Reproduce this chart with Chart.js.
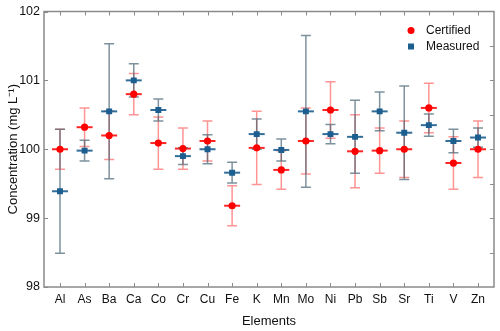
<!DOCTYPE html>
<html>
<head>
<meta charset="utf-8">
<script src="https://cdn.jsdelivr.net/npm/chart.js@4"></script>
<style>
  html, body { margin: 0; padding: 0; background: #fff; }
  #wrap { width: 500px; height: 331px; }
</style>
</head>
<body>
<div id="wrap"><canvas id="chart" width="500" height="331"></canvas></div>
<script>
const elements = ['Al', 'As', 'Ba', 'Ca', 'Co', 'Cr', 'Cu', 'Fe', 'K', 'Mn', 'Mo', 'Ni', 'Pb', 'Sb', 'Sr', 'Ti', 'V', 'Zn'];
const certified = [100.00, 100.32, 100.20, 100.80, 100.09, 100.01, 100.12, 99.18, 100.02, 99.70, 100.12, 100.57, 99.97, 99.98, 100.00, 100.60, 99.80, 100.00];
const certifiedErr = [0.29, 0.28, 0.35, 0.30, 0.38, 0.30, 0.29, 0.29, 0.53, 0.28, 0.48, 0.41, 0.53, 0.33, 0.41, 0.36, 0.38, 0.41];
const measured = [99.39, 99.98, 100.55, 101.00, 100.57, 99.90, 100.00, 99.66, 100.22, 99.99, 100.55, 100.22, 100.18, 100.55, 100.24, 100.35, 100.12, 100.17];
const measuredErr = [0.90, 0.15, 0.98, 0.24, 0.16, 0.12, 0.21, 0.15, 0.22, 0.16, 1.10, 0.14, 0.53, 0.28, 0.68, 0.16, 0.17, 0.14];
const yTicks = [98, 99, 100, 101, 102];

const RED = '#ff0000';
const BLUE = '#1b5e8f';
const FRAME = '#8a8a8a';

// error bars + the short horizontal bar through each marker, drawn under the points
const errorBars = {
  id: 'errorBars',
  beforeDatasetsDraw(chart) {
    const ctx = chart.ctx;
    const xs = chart.scales.x, ys = chart.scales.y;
    chart.data.datasets.forEach((ds) => {
      ctx.save();
      ds.data.forEach((p, i) => {
        const px = xs.getPixelForValue(p.x);
        const top = ys.getPixelForValue(p.y + ds.err[i]);
        const bot = ys.getPixelForValue(p.y - ds.err[i]);
        const py = ys.getPixelForValue(p.y);
        ctx.strokeStyle = ds.errColor;
        ctx.lineWidth = 1.5;
        ctx.beginPath();
        ctx.moveTo(px, top); ctx.lineTo(px, bot);
        ctx.moveTo(px - 5, top); ctx.lineTo(px + 5, top);
        ctx.moveTo(px - 5, bot); ctx.lineTo(px + 5, bot);
        ctx.stroke();
        ctx.strokeStyle = ds.barColor;
        ctx.lineWidth = 2;
        ctx.beginPath();
        ctx.moveTo(px - 8, py); ctx.lineTo(px + 8, py);
        ctx.stroke();
      });
      ctx.restore();
    });
  }
};

// box frame, inward ticks and the legend
const frame = {
  id: 'frame',
  afterDraw(chart) {
    const ctx = chart.ctx;
    const a = chart.chartArea;
    const xs = chart.scales.x, ys = chart.scales.y;
    ctx.save();
    ctx.strokeStyle = FRAME;
    ctx.lineWidth = 1.5;
    ctx.strokeRect(a.left, a.top, a.right - a.left, a.bottom - a.top);
    ctx.lineWidth = 1;
    ctx.beginPath();
    elements.forEach((e, i) => {
      const x = Math.round(xs.getPixelForValue(i)) + 0.5;
      ctx.moveTo(x, a.bottom); ctx.lineTo(x, a.bottom - 4);
      ctx.moveTo(x, a.top); ctx.lineTo(x, a.top + 4);
    });
    yTicks.forEach((v) => {
      const y = Math.round(ys.getPixelForValue(v)) + 0.5;
      ctx.moveTo(a.left, y); ctx.lineTo(a.left + 4, y);
    });
    for (let v = 98.5; v < 102; v += 0.5) {
      const y = Math.round(ys.getPixelForValue(v)) + 0.5;
      ctx.moveTo(a.right, y); ctx.lineTo(a.right - 4, y);
    }
    ctx.stroke();

    // legend
    ctx.font = '12px "Liberation Sans", Arial, sans-serif';
    ctx.textBaseline = 'middle';
    ctx.fillStyle = '#111';
    const lx = a.right - 83, ly = a.top + 19;
    chart.data.datasets.forEach((ds, k) => {
      const y = ly + k * 16;
      ctx.fillStyle = ds.pointBackgroundColor;
      if (ds.pointStyle === 'rect') {
        ctx.fillRect(lx - 3, y - 3, 6, 6);
      } else {
        ctx.beginPath(); ctx.arc(lx, y, 3.5, 0, Math.PI * 2); ctx.fill();
      }
      ctx.fillStyle = '#111';
      ctx.fillText(ds.label, lx + 15, y);
    });
    ctx.restore();
  }
};

new Chart(document.getElementById('chart'), {
  type: 'scatter',
  data: {
    datasets: [
      {
        label: 'Certified',
        data: certified.map((v, i) => ({ x: i, y: v })),
        err: certifiedErr,
        errColor: 'rgba(255,60,60,0.55)',
        barColor: 'rgba(255,0,0,0.85)',
        pointStyle: 'circle',
        pointRadius: 3.6,
        pointBackgroundColor: RED,
        pointBorderWidth: 0,
        borderColor: RED
      },
      {
        label: 'Measured',
        data: measured.map((v, i) => ({ x: i, y: v })),
        err: measuredErr,
        errColor: 'rgba(70,100,115,0.7)',
        barColor: 'rgba(27,94,143,0.9)',
        pointStyle: 'rect',
        pointRadius: 4.2,
        pointBackgroundColor: BLUE,
        pointBorderWidth: 0,
        borderColor: BLUE
      }
    ]
  },
  options: {
    responsive: false,
    animation: false,
    events: [],
    layout: { padding: { top: 10, right: 6, left: 0, bottom: 0 } },
    plugins: { legend: { display: false }, tooltip: { enabled: false } },
    scales: {
      x: {
        type: 'linear',
        min: -0.65,
        max: 17.65,
        afterFit: (s) => { s.height = 44; },
        grid: { display: false, drawTicks: false },
        border: { display: false },
        ticks: {
          stepSize: 1,
          autoSkip: false,
          includeBounds: false,
          maxRotation: 0,
          padding: 5,
          color: '#111',
          font: { family: '"Liberation Sans", Arial, sans-serif', size: 12 },
          callback: (v) => (Number.isInteger(v) ? elements[v] : '')
        },
        title: {
          display: true,
          text: 'Elements',
          color: '#111',
          padding: { top: 0, bottom: 2 },
          font: { family: '"Liberation Sans", Arial, sans-serif', size: 13 }
        }
      },
      y: {
        min: 98,
        max: 102,
        afterFit: (s) => { s.width = 44; },
        grid: { display: false, drawTicks: false },
        border: { display: false },
        ticks: {
          stepSize: 1,
          padding: 4,
          color: '#111',
          font: { family: '"Liberation Sans", Arial, sans-serif', size: 12.5 }
        },
        title: {
          display: true,
          text: 'Concentration (mg L\u207B\u00B9)',
          color: '#111',
          padding: { top: 6, bottom: 0 },
          font: { family: '"Liberation Sans", Arial, sans-serif', size: 13 }
        }
      }
    }
  },
  plugins: [errorBars, frame]
});
</script>
</body>
</html>
